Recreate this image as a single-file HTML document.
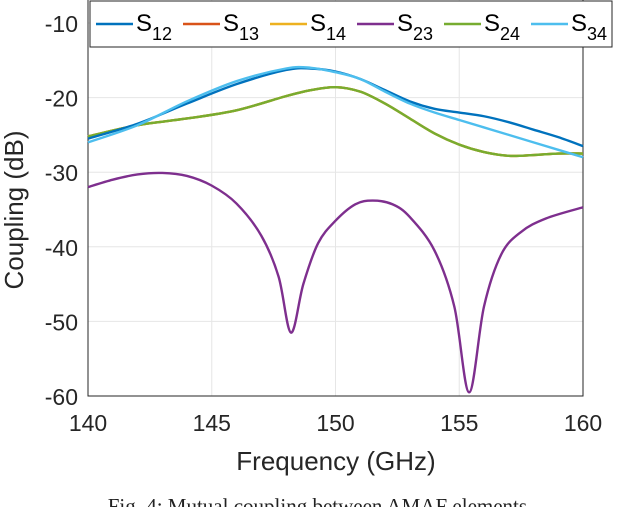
<!DOCTYPE html>
<html><head><meta charset="utf-8"><style>
body{margin:0;background:#fff;width:640px;height:507px;overflow:hidden}
svg{display:block;font-family:"Liberation Sans",sans-serif}
</style></head><body>
<svg id="c" width="640" height="507"></svg>
<script>
const xTicks=[140,145,150,155,160];
const yTicks=[-10,-20,-30,-40,-50,-60];
const seriesNames=["S12","S13","S14","S23","S24","S34"];
const seriesColors=["#0072bd","#d95319","#edb120","#7e2f8e","#77ac30","#4dbeee"];
const fS12=[140,142,144,146,148,149,150,151,152,153,154,155,156,157,158,159,160];
const vS12=[-25.5,-23.5,-20.8,-18.2,-16.3,-16.1,-16.5,-17.5,-19,-20.5,-21.5,-22,-22.5,-23.3,-24.3,-25.3,-26.5];
const vS34=[-26,-23.7,-20.5,-17.8,-16.1,-16,-16.6,-17.5,-19.2,-20.8,-22,-23,-24,-25,-26,-27,-28];
const vS24=[-25.2,-23.7,-22.8,-21.7,-19.8,-19,-18.6,-19.2,-20.8,-22.8,-24.8,-26.3,-27.3,-27.8,-27.7,-27.5,-27.5];
const vS13=vS24, vS14=vS24;
const fS23=[140,141,142,143,144,145,146,147,147.7,148.2,148.7,149.3,150,150.8,151.5,152.3,153,154,154.8,155.4,156,156.7,157.5,158.5,160];
const vS23=[-32,-31,-30.3,-30.1,-30.5,-31.8,-34.2,-38.5,-44,-51.5,-45,-39.5,-36.5,-34.3,-33.8,-34.3,-36,-40.5,-48,-59.5,-48,-41,-38,-36.2,-34.7];
const NS="http://www.w3.org/2000/svg";
const svg=document.getElementById('c');
const L=88,R=583,B=396;
const X=f=>L+(f-140)/20*(R-L);
const Y=v=>23+(-10-v)/50*(B-23);
function mk(t,a,p){const e=document.createElementNS(NS,t);for(const k in a)e.setAttribute(k,a[k]);(p||svg).appendChild(e);return e;}
xTicks.forEach(t=>{const g=mk('line',{x1:X(t),x2:X(t),y1:0,y2:B,stroke:'#e6e6e6'});


const l=mk('text',{x:X(t),y:431,'font-size':23,'text-anchor':'middle',fill:'#262626'});l.textContent=t;

});
yTicks.forEach(t=>{const g=mk('line',{x1:L,x2:R,y1:Y(t),y2:Y(t),stroke:'#e6e6e6'});


const l=mk('text',{x:78,y:Y(t)+9,'font-size':23,'text-anchor':'end',fill:'#262626'});l.textContent=t;

});
const ax=mk('path',{d:`M${L},0V${B}H${R}V0`,fill:'none',stroke:'#262626','stroke-width':1});


function smooth(pts){let d='M'+pts[0][0]+','+pts[0][1];
for(let i=0;i<pts.length-1;i++){const p0=pts[Math.max(0,i-1)],p1=pts[i],p2=pts[i+1],p3=pts[Math.min(pts.length-1,i+2)];
d+=' C'+(p1[0]+(p2[0]-p0[0])/6)+','+(p1[1]+(p2[1]-p0[1])/6)+' '+(p2[0]-(p3[0]-p1[0])/6)+','+(p2[1]-(p3[1]-p1[1])/6)+' '+p2[0]+','+p2[1];}
return d;}
function line(fs,vs,col,name){const p=mk('path',{d:smooth(fs.map((f,i)=>[X(f),Y(vs[i])])),fill:'none',stroke:col,'stroke-width':2.4,'stroke-linejoin':'round'});

}
line(fS12,vS13,seriesColors[1],'s13-line');
line(fS12,vS14,seriesColors[2],'s14-line');
line(fS23,vS23,seriesColors[3],'s23-line');
line(fS12,vS24,seriesColors[4],'s24-line');
line(fS12,vS12,seriesColors[0],'s12-line');
line(fS12,vS34,seriesColors[5],'s34-line');
const lg=mk('g',{});


mk('rect',{x:90,y:1,width:522,height:46,fill:'#fff',stroke:'#262626'},lg);
const lx=[96,183,270,357,444,531];
seriesNames.forEach((n,i)=>{const e=mk('g',{},lg);


mk('line',{x1:lx[i],x2:lx[i]+37,y1:24,y2:24,stroke:seriesColors[i],'stroke-width':2.4},e);
const t=mk('text',{x:lx[i]+40,y:31,'font-size':24,fill:'#000'},e);
t.innerHTML='S<tspan font-size="18" dy="9">'+n.slice(1)+'</tspan>';});
const xl=mk('text',{x:336,y:470,'font-size':26,'text-anchor':'middle',fill:'#262626'});xl.textContent='Frequency (GHz)';


const yl=mk('text',{x:0,y:0,'font-size':26,'text-anchor':'middle',fill:'#262626',transform:'translate(23,210) rotate(-90)'});yl.textContent='Coupling (dB)';


const cap=mk('text',{x:320,y:513,'font-size':21,'text-anchor':'middle',fill:'#222','font-family':'Liberation Serif, serif'});cap.textContent='Fig. 4: Mutual coupling between AMAF elements.';


</script>
</body></html>
